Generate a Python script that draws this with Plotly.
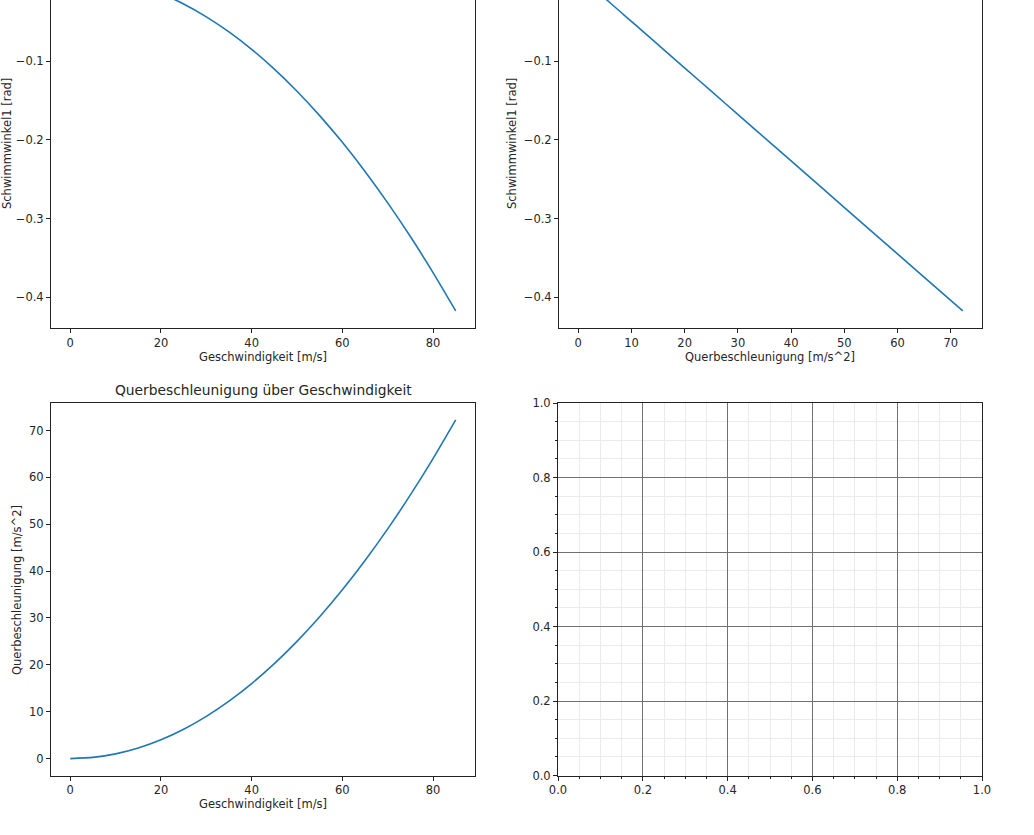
import plotly.graph_objects as go

# Data
speed = [0, 5, 10, 15, 20, 25, 30, 35, 40, 45, 50, 55, 60, 65, 70, 75, 80, 85]  # m/s
lat_acc = [0, 0.25, 1.0, 2.25, 4.0, 6.25, 9.0, 12.25, 16.0, 20.25, 25.0, 30.25,
           36.0, 42.25, 49.0, 56.25, 64.0, 72.25]  # m/s^2
slip = [0.0100, 0.0085, 0.0041, -0.0033, -0.0137, -0.0270, -0.0433, -0.0625,
        -0.0847, -0.1099, -0.1380, -0.1691, -0.2031, -0.2401, -0.2801, -0.3230,
        -0.3689, -0.4177]  # rad

W, H = 1034, 835
C0 = "#1f77b4"
FONT = "DejaVu Sans"
TXT = "#262626"


def px_x(a, b):
    return [a / W, b / W]


def px_y(top, bottom):
    return [1 - bottom / H, 1 - top / H]


fig = go.Figure()
line = dict(color=C0, width=1.6, shape="spline", smoothing=0.6)
fig.add_trace(go.Scatter(x=speed, y=slip, mode="lines", line=line, xaxis="x", yaxis="y", showlegend=False))
fig.add_trace(go.Scatter(x=lat_acc, y=slip, mode="lines", line=line, xaxis="x2", yaxis="y2", showlegend=False))
fig.add_trace(go.Scatter(x=speed, y=lat_acc, mode="lines", line=line, xaxis="x3", yaxis="y3", showlegend=False))
# empty fourth panel: an invisible trace so the axes are drawn
fig.add_trace(go.Scatter(x=[None], y=[None], mode="lines", xaxis="x4", yaxis="y4",
                         showlegend=False, hoverinfo="skip"))

tickfont = dict(family=FONT, size=11.5, color=TXT)
base = dict(showgrid=False, zeroline=False, showline=True, linecolor="#222", linewidth=1,
            ticks="outside", ticklen=4, tickwidth=1, tickcolor="#222", tickfont=tickfont,
            automargin=False)
minor = dict(dtick=0.05, showgrid=True, gridcolor="#ebebeb", gridwidth=1,
             ticks="outside", ticklen=2, tickcolor="#222")

fig.update_layout(
    template="none",
    width=W, height=H,
    margin=dict(l=0, r=0, t=0, b=0, pad=0, autoexpand=False),
    paper_bgcolor="white", plot_bgcolor="white",
    font=dict(family=FONT, color=TXT),
    # top-left
    xaxis=dict(base, domain=px_x(51, 475), range=[-4.25, 89.25], dtick=20, tick0=0, anchor="y", mirror=False),
    yaxis=dict(base, domain=px_y(0, 328), range=[-0.4394, -0.0219], dtick=0.1, tick0=0, anchor="x", mirror=True),
    # top-right
    xaxis2=dict(base, domain=px_x(559, 982), range=[-3.61, 75.86], dtick=10, tick0=0, anchor="y2", mirror=False),
    yaxis2=dict(base, domain=px_y(0, 328), range=[-0.4394, -0.0219], dtick=0.1, tick0=0, anchor="x2", mirror=True),
    # bottom-left
    xaxis3=dict(base, domain=px_x(51, 475), range=[-4.25, 89.25], dtick=20, tick0=0, anchor="y3", mirror=True),
    yaxis3=dict(base, domain=px_y(403, 775.5), range=[-3.61, 75.86], dtick=10, tick0=0, anchor="x3", mirror=True),
    # bottom-right (empty grid)
    xaxis4=dict(base, domain=px_x(558, 982), range=[0, 1], dtick=0.2, tick0=0, tickformat=".1f",
                anchor="y4", mirror=True, showgrid=True, gridcolor="#707070", gridwidth=1, minor=minor),
    yaxis4=dict(base, domain=px_y(403, 775.5), range=[0, 1], dtick=0.2, tick0=0, tickformat=".1f",
                anchor="x4", mirror=True, showgrid=True, gridcolor="#707070", gridwidth=1, minor=minor),
)

lab = dict(family=FONT, size=11.5, color=TXT)
annotations = [
    dict(text="Schwimmwinkel1 [rad]", x=7 / W, y=1 - 144 / H, textangle=-90),
    dict(text="Schwimmwinkel1 [rad]", x=512 / W, y=1 - 144 / H, textangle=-90),
    dict(text="Querbeschleunigung [m/s^2]", x=17 / W, y=1 - 590 / H, textangle=-90),
    dict(text="Geschwindigkeit [m/s]", x=263 / W, y=1 - 357 / H),
    dict(text="Querbeschleunigung [m/s^2]", x=770 / W, y=1 - 357 / H),
    dict(text="Geschwindigkeit [m/s]", x=263 / W, y=1 - 804 / H),
]
anns = []
for a in annotations:
    a.update(xref="paper", yref="paper", showarrow=False, font=lab, xanchor="center", yanchor="middle")
    anns.append(a)
anns.append(dict(text="Querbeschleunigung über Geschwindigkeit", x=263 / W, y=1 - 390 / H,
                 xref="paper", yref="paper", showarrow=False, xanchor="center", yanchor="middle",
                 font=dict(family=FONT, size=13.8, color=TXT)))
fig.update_layout(annotations=anns)

fig.write_html("out.html", config=dict(displayModeBar=False),
               post_script="document.body.style.margin='0';document.body.style.overflow='hidden';")
